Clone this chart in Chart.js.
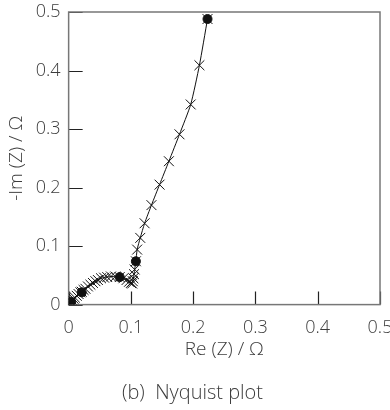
<!DOCTYPE html>
<html>
<head>
<meta charset="utf-8">
<script src="https://cdn.jsdelivr.net/npm/chart.js@4.4.1/dist/chart.umd.min.js"></script>
<style>
  html, body { margin: 0; padding: 0; background: #fff; }
  #wrap { position: relative; width: 390px; height: 410px; }
</style>
</head>
<body>
<div id="wrap"><canvas id="nyquist"></canvas></div>
<script>
// --- DATA ---
const reZ = [0.002, 0.004, 0.006, 0.008, 0.010, 0.013, 0.016, 0.019, 0.021, 0.024,
             0.027, 0.031, 0.035, 0.039, 0.043, 0.047, 0.052, 0.057, 0.062, 0.068,
             0.075, 0.082, 0.088, 0.093, 0.097, 0.100, 0.102, 0.103, 0.104, 0.105,
             0.106, 0.108, 0.110, 0.115, 0.122, 0.133, 0.146, 0.161, 0.178, 0.196,
             0.210, 0.223];
const imZ = [0.002, 0.004, 0.007, 0.010, 0.012, 0.015, 0.018, 0.021, 0.022, 0.025,
             0.027, 0.031, 0.034, 0.037, 0.040, 0.042, 0.045, 0.046, 0.047, 0.048,
             0.048, 0.047, 0.045, 0.042, 0.039, 0.037, 0.036, 0.040, 0.045, 0.052,
             0.060, 0.074, 0.094, 0.114, 0.139, 0.170, 0.205, 0.245, 0.291, 0.342,
             0.409, 0.488];

// filled circle markers
const markRe = [0.004, 0.021, 0.082, 0.108, 0.223];
const markIm = [0.005, 0.021, 0.047, 0.074, 0.488];

const axisTicks = [0, 0.1, 0.2, 0.3, 0.4, 0.5];

const toPoints = (xs, ys) => xs.map((v, i) => ({ x: v, y: ys[i] }));

const textColor = '#3c3c3c';
const family = "'Open Sans', 'Noto Sans', sans-serif";
const tickFont = { family, size: 18, weight: 300 };
const titleFont = { family, size: 19, weight: 300 };

// let the edge tick labels hang over the padding, like the original
const noEdgePadding = s => {
    s.paddingLeft = 0; s.paddingRight = 0;
    s.paddingTop = 0; s.paddingBottom = 0;
};

// box frame + inward tick marks
const framePlugin = {
    id: 'frame',
    beforeDatasetsDraw(chart) {
        const { ctx, chartArea: a, scales: { x, y } } = chart;
        ctx.save();
        ctx.strokeStyle = '#222';
        ctx.lineWidth = 1.2;
        ctx.beginPath();
        x.ticks.forEach(t => {
            const px = Math.round(x.getPixelForValue(t.value)) + 0.5;
            ctx.moveTo(px, a.bottom);
            ctx.lineTo(px, a.bottom - 13);
        });
        y.ticks.forEach(t => {
            const py = Math.round(y.getPixelForValue(t.value)) + 0.5;
            ctx.moveTo(a.left, py);
            ctx.lineTo(a.left + 14, py);
        });
        ctx.stroke();
        ctx.strokeStyle = '#777';
        ctx.lineWidth = 1.5;
        ctx.strokeRect(a.left, a.top, a.right - a.left, a.bottom - a.top);
        ctx.restore();
    }
};

new Chart(document.getElementById('nyquist'), {
    type: 'scatter',
    data: {
        datasets: [{
            label: 'impedance',
            data: toPoints(reZ, imZ),
            showLine: true,
            tension: 0.2,
            borderColor: '#111',
            borderWidth: 1,
            pointStyle: 'crossRot',
            pointRadius: 7,
            pointBorderColor: '#111',
            pointBorderWidth: 1
        }, {
            label: 'markers',
            data: toPoints(markRe, markIm),
            showLine: false,
            pointStyle: 'circle',
            pointRadius: 4.5,
            backgroundColor: '#111',
            borderColor: '#111'
        }]
    },
    options: {
        responsive: true,
        maintainAspectRatio: false,
        animation: false,
        layout: { padding: { top: 12, right: 10, left: 5, bottom: 0 } },
        plugins: {
            legend: { display: false },
            tooltip: { enabled: false },
            title: {
                display: true,
                position: 'bottom',
                text: '(b)  Nyquist plot',
                color: textColor,
                font: { family, size: 20, weight: 300 },
                padding: { top: 20, bottom: 5 }
            }
        },
        scales: {
            x: {
                type: 'linear',
                min: 0, max: 0.5,
                afterBuildTicks: s => { s.ticks = axisTicks.map(v => ({ value: v })); },
                afterFit: noEdgePadding,
                grid: { display: false, drawTicks: false },
                border: { display: false },
                ticks: { color: textColor, font: tickFont, padding: 12, maxRotation: 0 },
                title: { display: true, text: 'Re (Z) / Ω', color: textColor, font: titleFont, padding: { top: -12, bottom: 0 } }
            },
            y: {
                type: 'linear',
                min: 0, max: 0.5,
                afterBuildTicks: s => { s.ticks = axisTicks.map(v => ({ value: v })); },
                afterFit: noEdgePadding,
                grid: { display: false, drawTicks: false },
                border: { display: false },
                ticks: { color: textColor, font: tickFont, padding: 8 },
                title: { display: true, text: '-Im (Z) / Ω', color: textColor, font: titleFont, padding: { top: 0, bottom: 0 } }
            }
        }
    },
    plugins: [framePlugin]
});
</script>
</body>
</html>
